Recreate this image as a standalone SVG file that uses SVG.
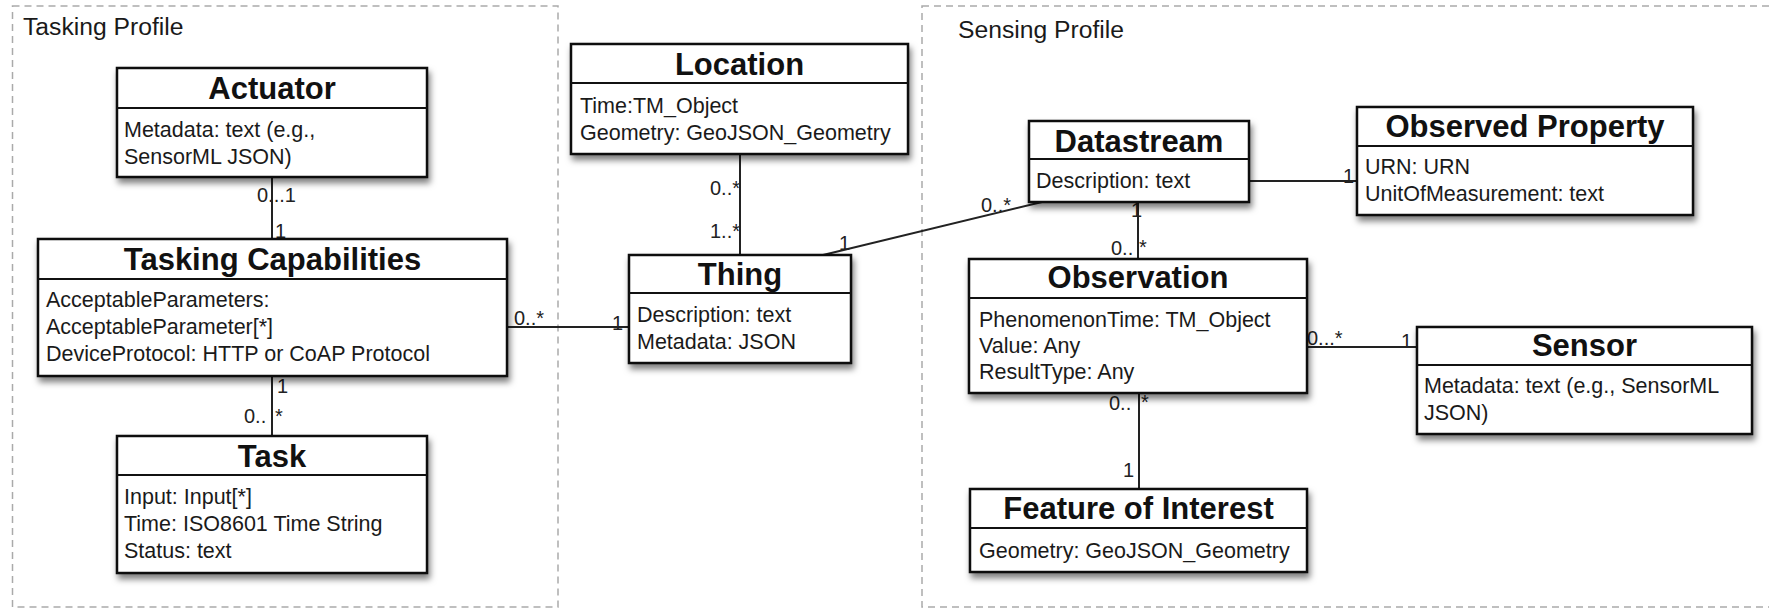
<svg xmlns="http://www.w3.org/2000/svg" width="1769" height="609" viewBox="0 0 1769 609">
<defs>
<filter id="sh" x="-10%" y="-10%" width="125%" height="135%">
<feDropShadow dx="2" dy="5" stdDeviation="3" flood-color="#000" flood-opacity="0.5"/>
</filter>
<style>
.box{fill:#fff;stroke:#111;stroke-width:2.5}
.div{stroke:#111;stroke-width:2}
.t{font-family:"Liberation Sans",Arial,sans-serif;font-weight:bold;font-size:31px;fill:#111;text-anchor:middle}
.a{font-family:"Liberation Sans",Arial,sans-serif;font-size:21.5px;fill:#1a1a1a}
.m{font-family:"Liberation Sans",Arial,sans-serif;font-size:20px;fill:#222}
.g{fill:none;stroke:#aaa;stroke-width:1.5;stroke-dasharray:7 5}
.gl{font-family:"Liberation Sans",Arial,sans-serif;font-size:24.7px;fill:#1a1a1a}
.c{fill:none;stroke:#222;stroke-width:2}
</style>
</defs>
<rect width="1769" height="609" fill="#fff"/>
<g id="groups">
<rect class="g" x="12.5" y="6" width="545.5" height="601"/>
<text class="gl" x="23" y="35">Tasking Profile</text>
<rect class="g" x="922" y="6" width="870" height="601"/>
<text class="gl" x="958" y="38">Sensing Profile</text>
</g>
<g id="connectors">
<path class="c" d="M272 177V239"/>
<path class="c" d="M272 376V436"/>
<path class="c" d="M507 327H629"/>
<path class="c" d="M740 154V255"/>
<path class="c" d="M823 255L1042 202"/>
<path class="c" d="M1249 181H1357"/>
<path class="c" d="M1138 202V259"/>
<path class="c" d="M1307 347H1417"/>
<path class="c" d="M1139 393V489"/>
<text class="m" x="257" y="202">0...1</text>
<text class="m" x="275" y="238">1</text>
<text class="m" x="277" y="393">1</text>
<text class="m" x="244" y="423">0..</text>
<text class="m" x="275" y="423">*</text>
<text class="m" x="514" y="325">0..*</text>
<text class="m" x="612" y="330">1</text>
<text class="m" x="710" y="195">0..*</text>
<text class="m" x="710" y="238">1..*</text>
<text class="m" x="839" y="250">1</text>
<text class="m" x="981" y="212">0..*</text>
<text class="m" x="1343" y="183">1</text>
<text class="m" x="1131" y="217">1</text>
<text class="m" x="1111" y="255">0..</text>
<text class="m" x="1139" y="254">*</text>
<text class="m" x="1307" y="345">0...*</text>
<text class="m" x="1401" y="348">1</text>
<text class="m" x="1109" y="410">0..</text>
<text class="m" x="1141" y="409">*</text>
<text class="m" x="1123" y="477">1</text>
</g>
<g id="actuator">
<rect class="box" filter="url(#sh)" x="117" y="68" width="310" height="109"/>
<line class="div" x1="117" y1="108" x2="427" y2="108"/>
<text class="t" x="272" y="99">Actuator</text>
<text class="a" x="124" y="137">Metadata: text (e.g.,</text>
<text class="a" x="124" y="164">SensorML JSON)</text>
</g>
<g id="tasking-capabilities">
<rect class="box" filter="url(#sh)" x="38" y="239" width="469" height="137"/>
<line class="div" x1="38" y1="279" x2="507" y2="279"/>
<text class="t" x="272.5" y="270">Tasking Capabilities</text>
<text class="a" x="46" y="307">AcceptableParameters:</text>
<text class="a" x="46" y="334">AcceptableParameter[*]</text>
<text class="a" x="46" y="361">DeviceProtocol: HTTP or CoAP Protocol</text>
</g>
<g id="task">
<rect class="box" filter="url(#sh)" x="117" y="436" width="310" height="137"/>
<line class="div" x1="117" y1="475" x2="427" y2="475"/>
<text class="t" x="272" y="467">Task</text>
<text class="a" x="124" y="504">Input: Input[*]</text>
<text class="a" x="124" y="531">Time: ISO8601 Time String</text>
<text class="a" x="124" y="558">Status: text</text>
</g>
<g id="location">
<rect class="box" filter="url(#sh)" x="571" y="44" width="337" height="110"/>
<line class="div" x1="571" y1="83" x2="908" y2="83"/>
<text class="t" x="739.5" y="75">Location</text>
<text class="a" x="580" y="113">Time:TM_Object</text>
<text class="a" x="580" y="140">Geometry: GeoJSON_Geometry</text>
</g>
<g id="thing">
<rect class="box" filter="url(#sh)" x="629" y="255" width="222" height="108"/>
<line class="div" x1="629" y1="293" x2="851" y2="293"/>
<text class="t" x="740" y="285">Thing</text>
<text class="a" x="637" y="322">Description: text</text>
<text class="a" x="637" y="349">Metadata: JSON</text>
</g>
<g id="datastream">
<rect class="box" filter="url(#sh)" x="1029" y="121" width="220" height="81"/>
<line class="div" x1="1029" y1="159" x2="1249" y2="159"/>
<text class="t" x="1139" y="152">Datastream</text>
<text class="a" x="1036" y="188">Description: text</text>
</g>
<g id="observed-property">
<rect class="box" filter="url(#sh)" x="1357" y="107" width="336" height="108"/>
<line class="div" x1="1357" y1="146" x2="1693" y2="146"/>
<text class="t" x="1525" y="137">Observed Property</text>
<text class="a" x="1365" y="174">URN: URN</text>
<text class="a" x="1365" y="201">UnitOfMeasurement: text</text>
</g>
<g id="observation">
<rect class="box" filter="url(#sh)" x="969" y="259" width="338" height="134"/>
<line class="div" x1="969" y1="298" x2="1307" y2="298"/>
<text class="t" x="1138" y="288">Observation</text>
<text class="a" x="979" y="327">PhenomenonTime: TM_Object</text>
<text class="a" x="979" y="353">Value: Any</text>
<text class="a" x="979" y="379">ResultType: Any</text>
</g>
<g id="sensor">
<rect class="box" filter="url(#sh)" x="1417" y="327" width="335" height="107"/>
<line class="div" x1="1417" y1="365" x2="1752" y2="365"/>
<text class="t" x="1584.5" y="356">Sensor</text>
<text class="a" x="1424" y="393">Metadata: text (e.g., SensorML</text>
<text class="a" x="1424" y="420">JSON)</text>
</g>
<g id="feature-of-interest">
<rect class="box" filter="url(#sh)" x="970" y="489" width="337" height="83"/>
<line class="div" x1="970" y1="528" x2="1307" y2="528"/>
<text class="t" x="1138.5" y="519">Feature of Interest</text>
<text class="a" x="979" y="558">Geometry: GeoJSON_Geometry</text>
</g>
</svg>
